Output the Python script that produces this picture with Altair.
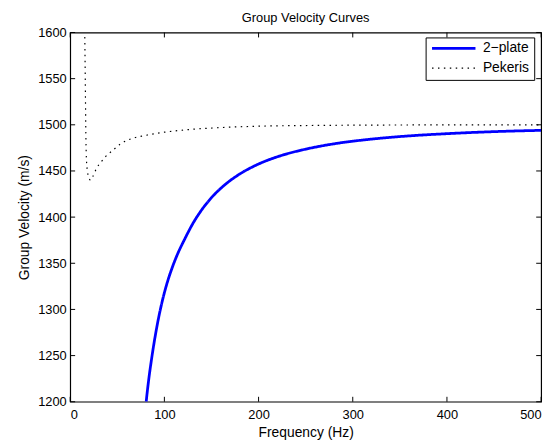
import altair as alt
import pandas as pd

# 2-plate model group velocity
plate_freq = [80.7, 81, 83.5, 86.5, 90, 94, 98, 103, 108, 114, 121, 130, 140, 150,
              165, 180, 200, 225, 250, 280, 320, 360, 400, 450, 500]
plate_vel = [1200, 1203, 1225, 1247, 1269.6, 1291.6, 1310, 1329, 1344.4, 1360, 1375,
             1392.6, 1408.4, 1421.1, 1435.7, 1446.7, 1457.5, 1467, 1473.6, 1479.4,
             1484.5, 1488, 1490.4, 1492.6, 1494]

# Pekeris model group velocity
pek_freq = [15.5, 16, 16.5, 17, 18, 19.5, 21.5, 24, 28, 33, 38, 46, 53, 65, 80, 100,
            128, 160, 200, 250, 300, 400, 500]
pek_vel = [1595, 1550, 1500, 1470, 1452, 1444, 1440, 1444, 1453, 1460, 1466, 1473,
           1479, 1485, 1488.5, 1492, 1495, 1497, 1498.5, 1499.2, 1499.6, 1499.9, 1500]

series_names = ["2\u2212plate", "Pekeris"]
x_ticks = [0, 100, 200, 300, 400, 500]
y_ticks = [1200, 1250, 1300, 1350, 1400, 1450, 1500, 1550, 1600]

W, H = 477, 374
TL = 5

rows = []
for i, (f, v) in enumerate(zip(plate_freq, plate_vel)):
    rows.append({"f": f, "v": v, "series": series_names[0], "i": i})
for i, (f, v) in enumerate(zip(pek_freq, pek_vel)):
    rows.append({"f": f, "v": v, "series": series_names[1], "i": i})
df = pd.DataFrame(rows)

xscale = alt.Scale(domain=[0, 500], nice=False, zero=False)
yscale = alt.Scale(domain=[1200, 1600], nice=False, zero=False)
xaxis = alt.Axis(values=x_ticks, ticks=False, domain=False, grid=False, format="d",
                 labelPadding=7, labelFontSize=13, titleFontSize=14,
                 titleFontWeight="normal", titlePadding=4, labelColor="black",
                 titleColor="black")
yaxis = alt.Axis(values=y_ticks, ticks=False, domain=False, grid=False, format="d",
                 labelPadding=4, labelFontSize=13, titleFontSize=14,
                 titleFontWeight="normal", titlePadding=6, labelColor="black",
                 titleColor="black")
XT = "Frequency (Hz)"
YT = "Group Velocity (m/s)"

leg = dict(title=None, orient="none", legendX=360, legendY=5,
           fillColor="white", strokeColor="black", padding=5,
           symbolType="stroke", symbolSize=1936, clipHeight=12,
           labelFontSize=14, labelColor="black", rowPadding=6, labelOffset=6)

lines = alt.Chart(df).mark_line(clip=True, interpolate="monotone").encode(
    x=alt.X("f:Q", scale=xscale, axis=xaxis, title=XT),
    y=alt.Y("v:Q", scale=yscale, axis=yaxis, title=YT),
    order="i:Q",
    color=alt.Color("series:N",
                    scale=alt.Scale(domain=series_names, range=["#0000ff", "#000000"]),
                    legend=alt.Legend(symbolStrokeWidth=2.5, **leg)),
    strokeDash=alt.StrokeDash("series:N",
                              scale=alt.Scale(domain=series_names, range=[[1, 0], [1.5, 4.5]]),
                              legend=alt.Legend(**leg)),
    strokeWidth=alt.StrokeWidth("series:N",
                                scale=alt.Scale(domain=series_names, range=[2.8, 1.2]),
                                legend=None),
)

xt_df = pd.DataFrame({"t": x_ticks})
yt_df = pd.DataFrame({"t": y_ticks})

xtick_bottom = alt.Chart(xt_df).mark_rule(color="black", strokeWidth=1).encode(
    x=alt.X("t:Q", scale=xscale, axis=xaxis, title=XT),
    y=alt.value(H), y2=alt.value(H - TL))
xtick_top = alt.Chart(xt_df).mark_rule(color="black", strokeWidth=1).encode(
    x=alt.X("t:Q", scale=xscale, axis=xaxis, title=XT),
    y=alt.value(0), y2=alt.value(TL))
ytick_left = alt.Chart(yt_df).mark_rule(color="black", strokeWidth=1).encode(
    y=alt.Y("t:Q", scale=yscale, axis=yaxis, title=YT),
    x=alt.value(0), x2=alt.value(TL))
ytick_right = alt.Chart(yt_df).mark_rule(color="black", strokeWidth=1).encode(
    y=alt.Y("t:Q", scale=yscale, axis=yaxis, title=YT),
    x=alt.value(W - TL), x2=alt.value(W))

chart = alt.layer(xtick_bottom, xtick_top, ytick_left, ytick_right, lines).properties(
    width=W, height=H,
    title=alt.Title("Group Velocity Curves", fontSize=13, fontWeight="normal",
                    color="black", offset=2),
    autosize=alt.AutoSizeParams(type="none"),
    padding={"left": 63, "top": 22, "right": 10, "bottom": 40},
).configure(
    font="Liberation Sans",
).configure_view(
    stroke="black", strokeWidth=1.2
)

chart.save("out.html", embed_options={"renderer": "svg", "actions": False})
